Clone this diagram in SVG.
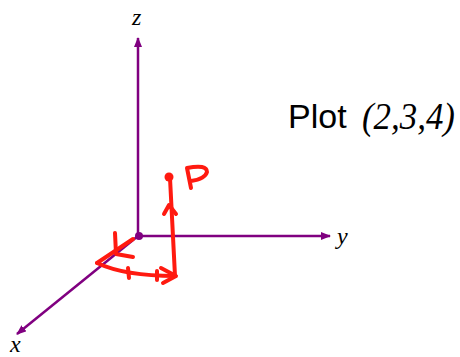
<svg xmlns="http://www.w3.org/2000/svg" width="460" height="357" viewBox="0 0 460 357">
<style>
.ax{stroke:#800080;stroke-width:2.5;fill:none}
.lab{font-family:"Liberation Serif",serif;font-style:italic;font-size:24px;fill:#000}
.ink{stroke:#ff1a10;stroke-width:4;fill:none;stroke-linecap:round;stroke-linejoin:round}
</style>
<defs>
<marker id="ah" viewBox="0 0 10 8" refX="9" refY="4" markerWidth="10" markerHeight="8" markerUnits="userSpaceOnUse" orient="auto">
<path d="M0,0 L10,4 L0,8 Z" fill="#800080"/>
</marker>
</defs>
<g id="connectors">
<line class="ax" x1="138" y1="236" x2="138" y2="38" marker-end="url(#ah)"/>
<line class="ax" x1="138" y1="236" x2="330" y2="236" marker-end="url(#ah)"/>
<line class="ax" x1="138" y1="236" x2="17" y2="334" marker-end="url(#ah)"/>
</g>
<g id="origin"><circle cx="139" cy="236" r="4" fill="#800080"/></g>
<g id="labels">
<text class="lab" x="132" y="25">z</text>
<text class="lab" x="337" y="244">y</text>
<text class="lab" x="10" y="352">x</text>
</g>
<g id="title">
<text x="288" y="128" font-family="Liberation Sans,Arial,sans-serif" font-size="34">Plot</text>
<text x="362" y="129" font-family="Liberation Serif,serif" font-style="italic" font-size="37" textLength="93" lengthAdjust="spacingAndGlyphs">(2,3,4)</text>
</g>
<g id="sketch">
<path class="ink" d="M133,239 L97,263"/>
<path class="ink" d="M115,233 L116,254 L133,257"/>
<path class="ink" d="M97,263 Q125,276 175,276"/>
<path class="ink" d="M128,268 L129,278 M157,271 L157,280"/>
<path class="ink" d="M161,268 L176,276 L163,283"/>
<path class="ink" d="M175,276 L170,178"/>
<path class="ink" d="M164,214 L169,205 L176,214"/>
<circle cx="169" cy="177" r="4.5" fill="#ff1a10"/>
<path class="ink" d="M187,168 L191,188 M187,168 Q207,164 207,172 Q205,179 191,181"/>
</g>
</svg>
